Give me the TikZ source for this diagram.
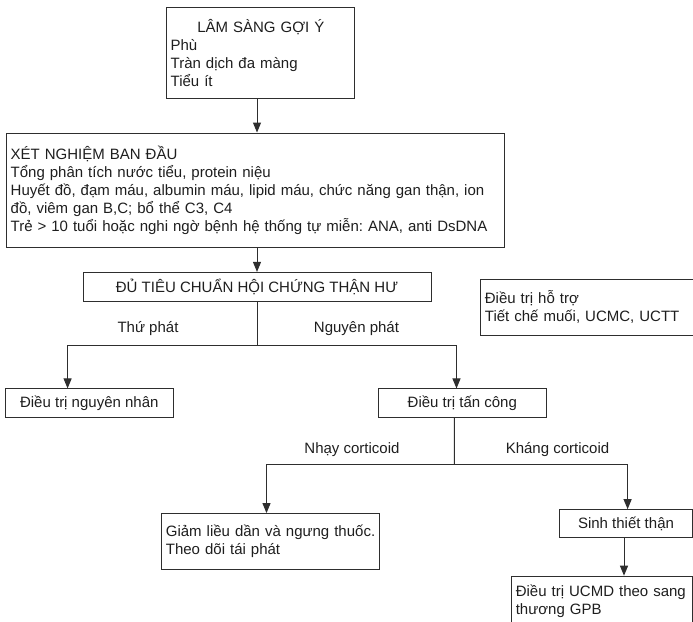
\documentclass[tikz,border=0pt]{standalone}
\usepackage{fontspec}
\setmainfont{Liberation Sans}
\usetikzlibrary{arrows.meta}
\definecolor{ink}{HTML}{1E1E1E}
\definecolor{edge}{HTML}{2E2E2E}
\frenchspacing
\begin{document}
\begin{tikzpicture}[x=1pt,y=-1pt,
  every node/.style={text=ink},
  txt/.style={font=\fontsize{15}{17.8}\selectfont},
  box/.style={txt, draw=edge, line width=1pt, rectangle, inner xsep=4pt, inner ysep=0pt},
  lbox/.style={box, align=left},
  cbox/.style={box, align=center},
  lbl/.style={txt, inner sep=0pt},
  link/.style={draw=edge, line width=1pt},
  arr/.style={link, -{Triangle[length=10pt,width=8pt]}}]
\useasboundingbox (0,0) rectangle (693,621);
\clip (0,0) rectangle (693,621);

% boxes
\node[lbox, text width=180.3pt, minimum height=90.3pt] (b1) at (260.8,53)
  {{\centering LÂM SÀNG GỢI Ý\par}Phù\\Tràn dịch đa màng\\Tiểu ít};
\node[lbox, text width=490pt, minimum height=114.5pt] (b2) at (255.7,190.3)
  {\mbox{XÉT NGHIỆM BAN ĐẦU}\\
   \mbox{Tổng phân tích nước tiểu, protein niệu}\\
   \mbox{Huyết đồ, đạm máu, albumin máu, lipid máu, chức năng gan thận, ion}\\
   \mbox{đồ, viêm gan B,C; bổ thể C3, C4}\\
   \mbox{Trẻ > 10 tuổi hoặc nghi ngờ bệnh hệ thống tự miễn: ANA, anti DsDNA}};
\node[cbox, minimum width=348pt, minimum height=29.4pt] (b3) at (257,287.1)
  {ĐỦ TIÊU CHUẨN HỘI CHỨNG THẬN HƯ};
\node[lbox, text width=232pt, minimum height=56.2pt] (b9) at (600.9,307.3)
  {Điều trị hỗ trợ\\\mbox{Tiết chế muối, UCMC, UCTT}};
\node[cbox, minimum width=168pt, minimum height=28.1pt] (b4) at (89.3,403)
  {Điều trị nguyên nhân};
\node[cbox, minimum width=168pt, minimum height=28.1pt] (b5) at (462.3,403)
  {Điều trị tấn công};
\node[lbox, text width=210pt, minimum height=55.4pt] (b6) at (270.9,541.3)
  {\mbox{Giảm liều dần và ngưng thuốc.}\\Theo dõi tái phát};
\node[cbox, minimum width=133pt, minimum height=28pt] (b7) at (626,523.7)
  {Sinh thiết thận};
\node[lbox, text width=172.2pt, minimum height=50pt] (b8) at (601.9,601.2)
  {\mbox{Điều trị UCMD theo sang}\\thương GPB};

% branch labels
\node[lbl] (l1) at (148,328.7) {Thứ phát};
\node[lbl] (l2) at (356.5,328.7) {Nguyên phát};
\node[lbl] (l3) at (352,449.5) {Nhạy corticoid};
\node[lbl] (l4) at (557.5,449.5) {Kháng corticoid};

% connectors
\coordinate (j1) at (257,345.3);
\coordinate (j2) at (454.4,464.1);
\draw[arr] (b1.south -| b3.north) -- (b2.north -| b3.north);
\draw[arr] (b2.south -| b3.north) -- (b3.north);
\draw[link] (b3.south) -- (j1);
\draw[arr] (j1) -| ([xshift=-21.7pt]b4.north);
\draw[arr] (j1) -| ([xshift=-5.8pt]b5.north);
\draw[link] ([xshift=-7.9pt]b5.south) -- (j2);
\draw[arr] (j2) -| ([xshift=-4.4pt]b6.north);
\draw[arr] (j2) -| ([xshift=1.6pt]b7.north);
\draw[arr] ([xshift=-2pt]b7.south) -- ([xshift=-2pt]b8.north -| b7.south);
\end{tikzpicture}
\end{document}
